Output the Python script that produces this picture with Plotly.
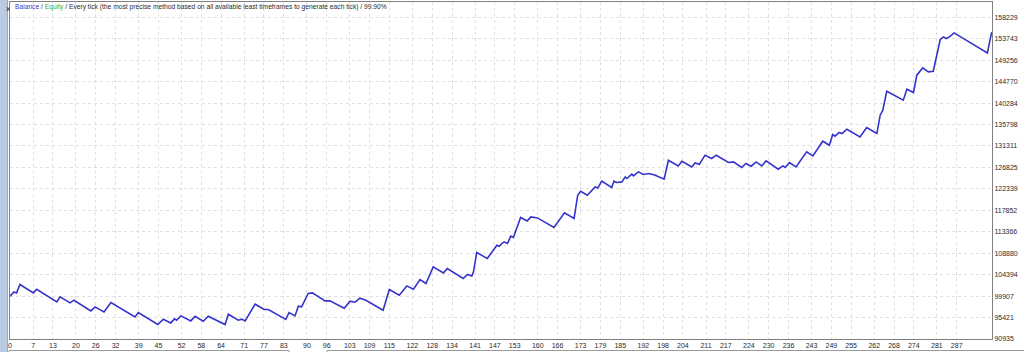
import plotly.graph_objects as go

# ---- data ----
trade_idx = [0, 1.2, 2.0, 3.0, 7.1, 8.1, 14.2, 15.2, 18.2, 19.4, 24.5, 25.8, 28.5, 30.6, 37.9, 38.9,
             44.8, 46.5, 48.7, 49.9, 50.5, 51.8, 54.8, 56.1, 58.6, 60.1, 65.2, 66.2, 69.2, 70.3, 71.3,
             74.3, 77.1, 78.3, 83.6, 84.6, 86.4, 87.4, 88.4, 90.4, 91.7, 95.5, 97.0, 100.1, 101.3,
             103.1, 104.6, 106.1, 107.9, 113.1, 115.0, 118.0, 120.3, 122.3, 124.3, 126.1, 128.3,
             131.4, 132.6, 137.4, 138.7, 140.0, 140.5, 141.5, 144.7, 147.6, 148.3, 149.1, 149.8,
             150.8, 151.8, 152.6, 154.8, 156.8, 157.9, 159.9, 164.9, 168.1, 171.0, 172.1, 173.0,
             175.0, 177.4, 178.2, 179.4, 182.4, 183.1, 183.9, 185.5, 186.5, 187.0, 188.5, 189.0,
             190.5, 192.0, 193.8, 195.6, 198.3, 199.6, 202.6, 203.7, 206.7, 207.7, 209.0, 210.7,
             212.7, 214.1, 217.8, 219.3, 221.8, 223.1, 224.7, 226.2, 227.9, 229.2, 232.9, 234.3,
             235.0, 236.3, 238.3, 241.5, 243.4, 246.4, 248.4, 249.4, 250.1, 251.4, 252.2, 253.7,
             257.7, 259.7, 262.8, 263.8, 264.6, 265.8, 270.8, 271.9, 273.9, 274.9, 276.7, 278.4,
             279.9, 280.8, 282.0, 283.0, 283.8, 284.8, 286.2, 296.3, 297.6]

balance = [99887, 100786, 100577, 102334, 100577, 101351, 98695, 99740, 98485, 99050, 96812, 97649,
           96603, 98569, 95557, 96477, 93968, 95076, 94302, 95139, 94867, 95766, 94721, 95704, 94658,
           95704, 93968, 96122, 94867, 95076, 94721, 98213, 97105, 97105, 95013, 96477, 95766, 97795,
           97649, 100451, 100577, 98904, 98904, 97795, 97377, 98841, 98632, 99468, 99050, 96959,
           101288, 100096, 102041, 101351, 103379, 102543, 106015, 104760, 105680, 103589, 104425,
           104132, 104969, 109026, 107772, 110553, 110344, 110909, 111243, 110909, 112435, 112164,
           116347, 115636, 116472, 116263, 114255, 117309, 116138, 121011, 121847, 121011, 122747,
           122538, 123939, 122621, 123939, 123667, 123792, 124838, 124504, 125402, 125047, 125884,
           125340, 125549, 125194, 124357, 128331, 127139, 128122, 126930, 127766, 127494, 129377,
           128687, 129377, 127850, 127975, 126804, 127641, 127076, 127975, 127139, 128184, 126449,
           127139, 126804, 127850, 126930, 130067, 129230, 132305, 131468, 133706, 133351, 134124,
           133915, 134814, 133204, 135170, 133915, 137743, 138789, 142762, 140880, 143181, 142490,
           146109, 147636, 146799, 146945, 149936, 153575, 154119, 153785, 154119, 154956, 150773,
           155102]

x_tick_labels = [0, 7, 13, 20, 26, 32, 39, 45, 52, 58, 64, 71, 77, 83, 90, 96, 103, 109, 115, 122,
                 128, 134, 141, 147, 153, 160, 166, 173, 179, 185, 192, 198, 204, 211, 217, 224, 230,
                 236, 243, 249, 255, 262, 268, 274, 281, 287]

y_tick_labels = [90935, 95421, 99907, 104394, 108880, 113366, 117852, 122339, 126825, 131311,
                 135798, 140284, 144770, 149256, 153743, 158229]

# ---- figure ----
W, H = 1024, 352
L, R, T, B = 10, 32, 2, 13
pw, ph = W - L - R, H - T - B

def px_x(p):
    return (p - L) / pw

def px_y(p):
    return (H - B - p) / ph

fig = go.Figure()
fig.add_trace(go.Scatter(x=trade_idx, y=balance, mode="lines",
                         line=dict(color="#3434cc", width=1.6), hoverinfo="skip"))

y_step = (y_tick_labels[-1] - y_tick_labels[0]) / (len(y_tick_labels) - 1)
y_vals = [y_tick_labels[0] + i * y_step for i in range(len(y_tick_labels))]
y_top = y_tick_labels[0] + y_step * (ph / 21.45)

tick_font = dict(family="Liberation Sans, Arial, sans-serif", size=7, color="#2a2a2a")
grid_col = "#e0e0e0"

fig.update_layout(
    width=W, height=H,
    margin=dict(l=L, r=R, t=T, b=B),
    paper_bgcolor="white", plot_bgcolor="white",
    showlegend=False,
    xaxis=dict(range=[0, 297.7], tickvals=x_tick_labels, ticktext=[str(v) for v in x_tick_labels],
               showgrid=True, gridcolor=grid_col, griddash="dot", gridwidth=1,
               showline=True, linecolor="#808080", linewidth=1, mirror=True,
               ticks="", tickfont=tick_font, zeroline=False, fixedrange=True),
    yaxis=dict(range=[y_tick_labels[0], y_top], side="right", tickvals=y_vals,
               ticktext=[str(v) for v in y_tick_labels],
               showgrid=True, gridcolor=grid_col, griddash="dot", gridwidth=1,
               showline=True, linecolor="#808080", linewidth=1, mirror=True,
               ticks="", tickfont=tick_font, zeroline=False, fixedrange=True),
)

# header text
fig.add_annotation(
    xref="paper", yref="paper", x=px_x(13), y=px_y(7), xanchor="left", yanchor="middle",
    showarrow=False, align="left",
    font=dict(family="Liberation Sans, Arial, sans-serif", size=6.7, color="#2a2a2a"),
    text="<span style='color:#3c3cc8'>Balance</span> / <span style='color:#2fb52f'>Equity</span>"
         " / Every tick (the most precise method based on all available least timeframes to generate each tick) / 99.90%",
)

# window chrome: left strip, close mark, bottom panels
fig.add_shape(type="rect", xref="paper", yref="paper", x0=px_x(0), x1=px_x(7.5), y0=px_y(H), y1=px_y(0),
              fillcolor="#b8cbe2", line=dict(width=0), layer="above")
fig.add_shape(type="line", xref="paper", yref="paper", x0=px_x(7.5), x1=px_x(7.5), y0=px_y(H), y1=px_y(0),
              line=dict(color="#93a9c6", width=1))
fig.add_annotation(xref="paper", yref="paper", x=px_x(3.5), y=px_y(3), showarrow=False,
                   text="x", font=dict(family="DejaVu Sans", size=7, color="#202020"))
for x0, x1 in [(9, 289), (327, 1024)]:
    fig.add_shape(type="line", xref="paper", yref="paper", x0=px_x(x0), x1=px_x(x1),
                  y0=px_y(350.5), y1=px_y(350.5), line=dict(color="#9a9a9a", width=1))
    fig.add_shape(type="line", xref="paper", yref="paper", x0=px_x(x0), x1=px_x(x0),
                  y0=px_y(350.5), y1=px_y(352), line=dict(color="#9a9a9a", width=1))
fig.add_shape(type="line", xref="paper", yref="paper", x0=px_x(289), x1=px_x(289),
              y0=px_y(350.5), y1=px_y(352), line=dict(color="#9a9a9a", width=1))

fig.write_html("out.html")
